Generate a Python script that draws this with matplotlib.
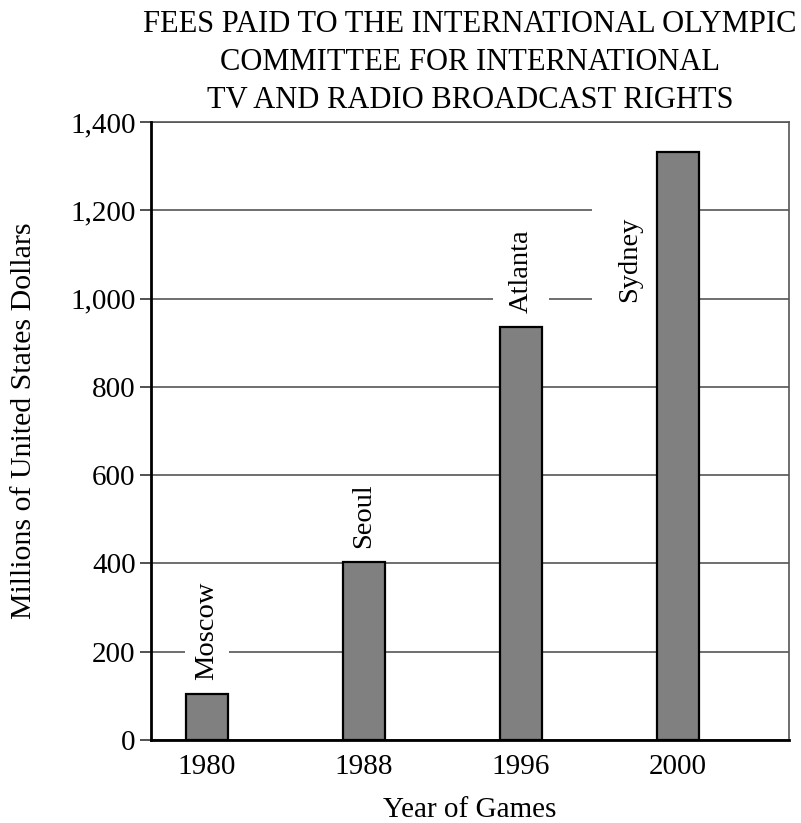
import matplotlib.pyplot as plt
import numpy as np

plt.rcParams['font.family'] = ['Liberation Serif', 'DejaVu Serif']

# Data
years = ['1980', '1988', '1996', '2000']
cities = ['Moscow', 'Seoul', 'Atlanta', 'Sydney']
fees = [105, 403, 935, 1332]
yticks = [0, 200, 400, 600, 800, 1000, 1200, 1400]

fig = plt.figure(figsize=(8.01, 8.23), dpi=100)
ax = fig.add_axes([0.1885, 0.1009, 0.7965, 0.7509])

x = np.arange(len(years))
ax.bar(x, fees, width=0.27, color='#808080', edgecolor='black', linewidth=1.6, zorder=6)

ax.set_xlim(-0.357, 3.707)
ax.set_ylim(0, 1400)
ax.set_yticks(yticks)
ax.set_yticklabels([f'{v:,}' for v in yticks])
ax.set_xticks(x)
ax.set_xticklabels(years)
ax.yaxis.grid(True, color='#555555', linewidth=1.2, zorder=0)

ax.tick_params(axis='y', length=8, width=1.2, color='#333333', labelsize=21, pad=3)
ax.tick_params(axis='x', length=0, labelsize=21, pad=10)

for side in ['left', 'bottom']:
    ax.spines[side].set_linewidth(2)
    ax.spines[side].set_color('black')
    ax.spines[side].set_zorder(7)
for side in ['top', 'right']:
    ax.spines[side].set_linewidth(1.2)
    ax.spines[side].set_color('#555555')

# City labels above (or beside) the bars, white boxes break the gridlines
pads = {'Moscow': 0.35, 'Seoul': 0.15, 'Atlanta': 0.55, 'Sydney': 0.9}
for i, (city, val) in enumerate(zip(cities, fees)):
    box = dict(facecolor='white', edgecolor='none', boxstyle=f'square,pad={pads[city]}')
    if city == 'Sydney':
        ax.text(i - 0.305, 992, city, rotation=90, ha='center', va='bottom',
                fontsize=20.5, zorder=5, bbox=box)
    else:
        ax.annotate(city, xy=(i, val), xytext=(0, 10), textcoords='offset points',
                    rotation=90, ha='center', va='bottom', fontsize=20.5, zorder=5,
                    bbox=box)

ax.set_title('FEES PAID TO THE INTERNATIONAL OLYMPIC\nCOMMITTEE FOR INTERNATIONAL\nTV AND RADIO BROADCAST RIGHTS',
             fontsize=22, linespacing=1.42, pad=10)
ax.set_ylabel('Millions of United States Dollars', fontsize=21.5)
ax.yaxis.set_label_coords(-0.178, 0.517)
ax.set_xlabel('Year of Games', fontsize=21, labelpad=12)

fig.savefig('out.png', dpi=100)
